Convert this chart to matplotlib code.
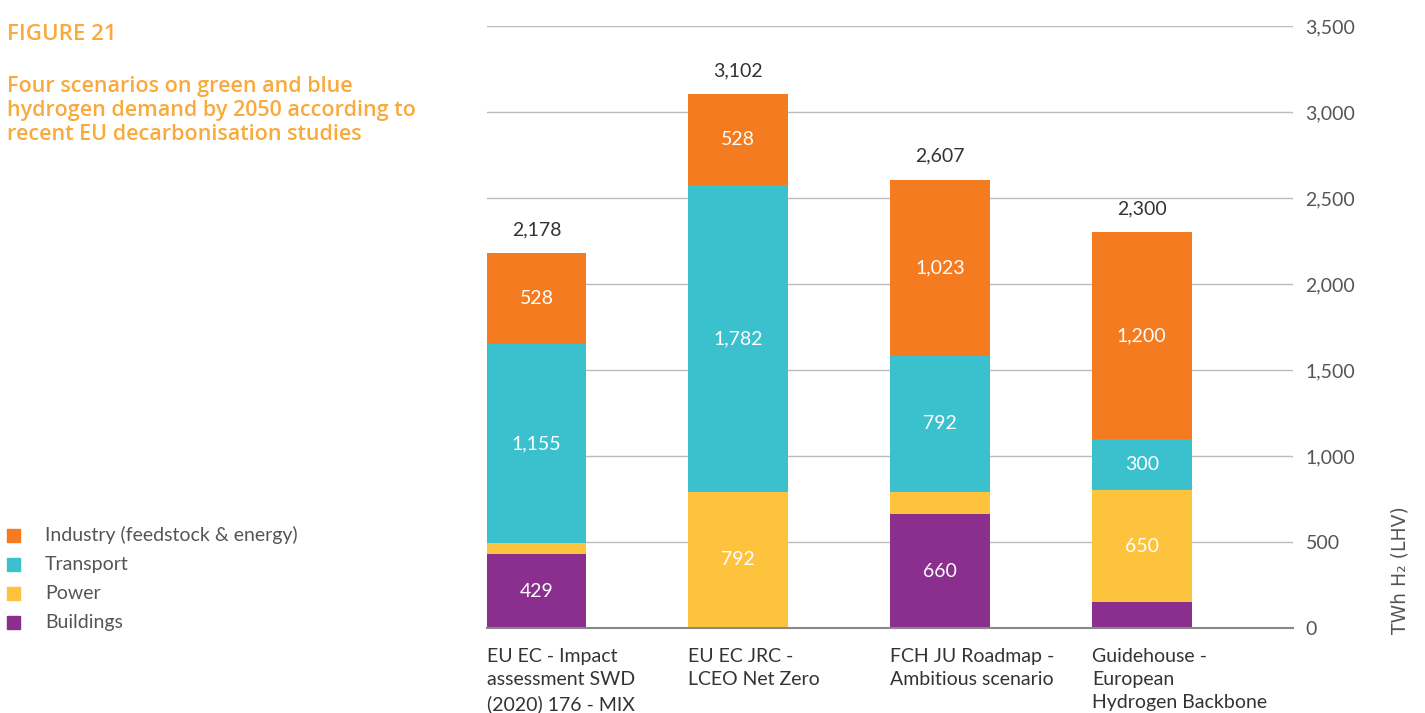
import numpy as np
import matplotlib
matplotlib.use("Agg")
import matplotlib.pyplot as plt
from matplotlib.patches import Rectangle

# data (TWh H2, LHV)
scenarios = ["EU EC - Impact\nassessment SWD\n(2020) 176 - MIX",
             "EU EC JRC -\nLCEO Net Zero",
             "FCH JU Roadmap -\nAmbitious scenario",
             "Guidehouse -\nEuropean\nHydrogen Backbone"]
buildings = [429, 0, 660, 150]
power = [66, 792, 132, 650]
transport = [1155, 1782, 792, 300]
industry = [528, 528, 1023, 1200]
totals = [2178, 3102, 2607, 2300]

series = [("Buildings", buildings, "#8B2F8F"),
          ("Power", power, "#FEC33D"),
          ("Transport", transport, "#3BC1CD"),
          ("Industry (feedstock & energy)", industry, "#F47B20")]

plt.rcParams['font.family'] = ['Lato', 'DejaVu Sans']

fig = plt.figure(figsize=(14.25, 7.13), dpi=100)
ax = fig.add_axes([0.3418, 0.1192, 0.5656, 0.8443])

x = np.arange(len(scenarios))
w = 0.495
bottom = np.zeros(len(scenarios))
for name, vals, col in series:
    vals = np.array(vals, dtype=float)
    ax.bar(x, vals, w, bottom=bottom, color=col, zorder=3)
    for xi, b, v in zip(x, bottom, vals):
        if v >= 200:
            ax.text(xi, b + v / 2, f"{int(v):,}", ha="center", va="center",
                    color="white", fontsize=14, zorder=4)
    bottom += vals

for xi, t, top in zip(x, totals, bottom):
    ax.text(xi, top + 90, f"{t:,}", ha="center", va="bottom",
            color="#333333", fontsize=14)

ax.set_xlim(-0.245, 3.75)
ax.set_ylim(0, 3500)
ax.set_yticks(np.arange(0, 3501, 500))
ax.yaxis.tick_right()
ax.tick_params(axis="y", length=0, pad=9, labelsize=14, labelcolor="#555555")
ax.yaxis.set_major_formatter(matplotlib.ticker.FuncFormatter(lambda v, p: f"{int(v):,}"))
ax.grid(axis="y", color="#bbbbbb", linewidth=1, zorder=0)
ax.set_xticks([])
for s in ["top", "left", "right"]:
    ax.spines[s].set_visible(False)
ax.spines["bottom"].set_color("#888888")
ax.spines["bottom"].set_linewidth(1.5)
ax.spines["bottom"].set_zorder(5)

# category labels, left aligned with the bars
for xi, lab in zip(x, scenarios):
    ax.text(xi - w / 2, -0.033, lab, transform=ax.get_xaxis_transform(),
            ha="left", va="top", fontsize=14, color="#333333",
            linespacing=1.45)

fig.text(1400 / 1425, 1 - 570 / 713, "TWh H\u2082 (LHV)", rotation=90,
         ha="center", va="center", fontsize=13.5, color="#555555",
         family=['DejaVu Sans'])

# title block
orange = "#F9AA3A"
fig.text(7 / 1425, 1 - 35 / 713, "FIGURE 21", ha="left", va="center",
         fontsize=16, color=orange, fontweight="semibold",
         family=['Open Sans', 'DejaVu Sans'])
fig.text(7 / 1425, 1 - 76 / 713,
         "Four scenarios on green and blue\nhydrogen demand by 2050 according to\nrecent EU decarbonisation studies",
         ha="left", va="top", fontsize=15.5, color=orange, fontweight="semibold",
         linespacing=1.2, family=['Open Sans', 'DejaVu Sans'])

# legend
for i, (name, vals, col) in enumerate(series[::-1]):
    yc = 1 - (535 + 29.3 * i) / 713
    fig.patches.append(Rectangle((7 / 1425, yc - 6.5 / 713), 13 / 1425, 13 / 713,
                                 transform=fig.transFigure, color=col))
    fig.text(45 / 1425, yc, name, ha="left", va="center", fontsize=14,
             color="#555555")

fig.savefig("out.png", dpi=100)
